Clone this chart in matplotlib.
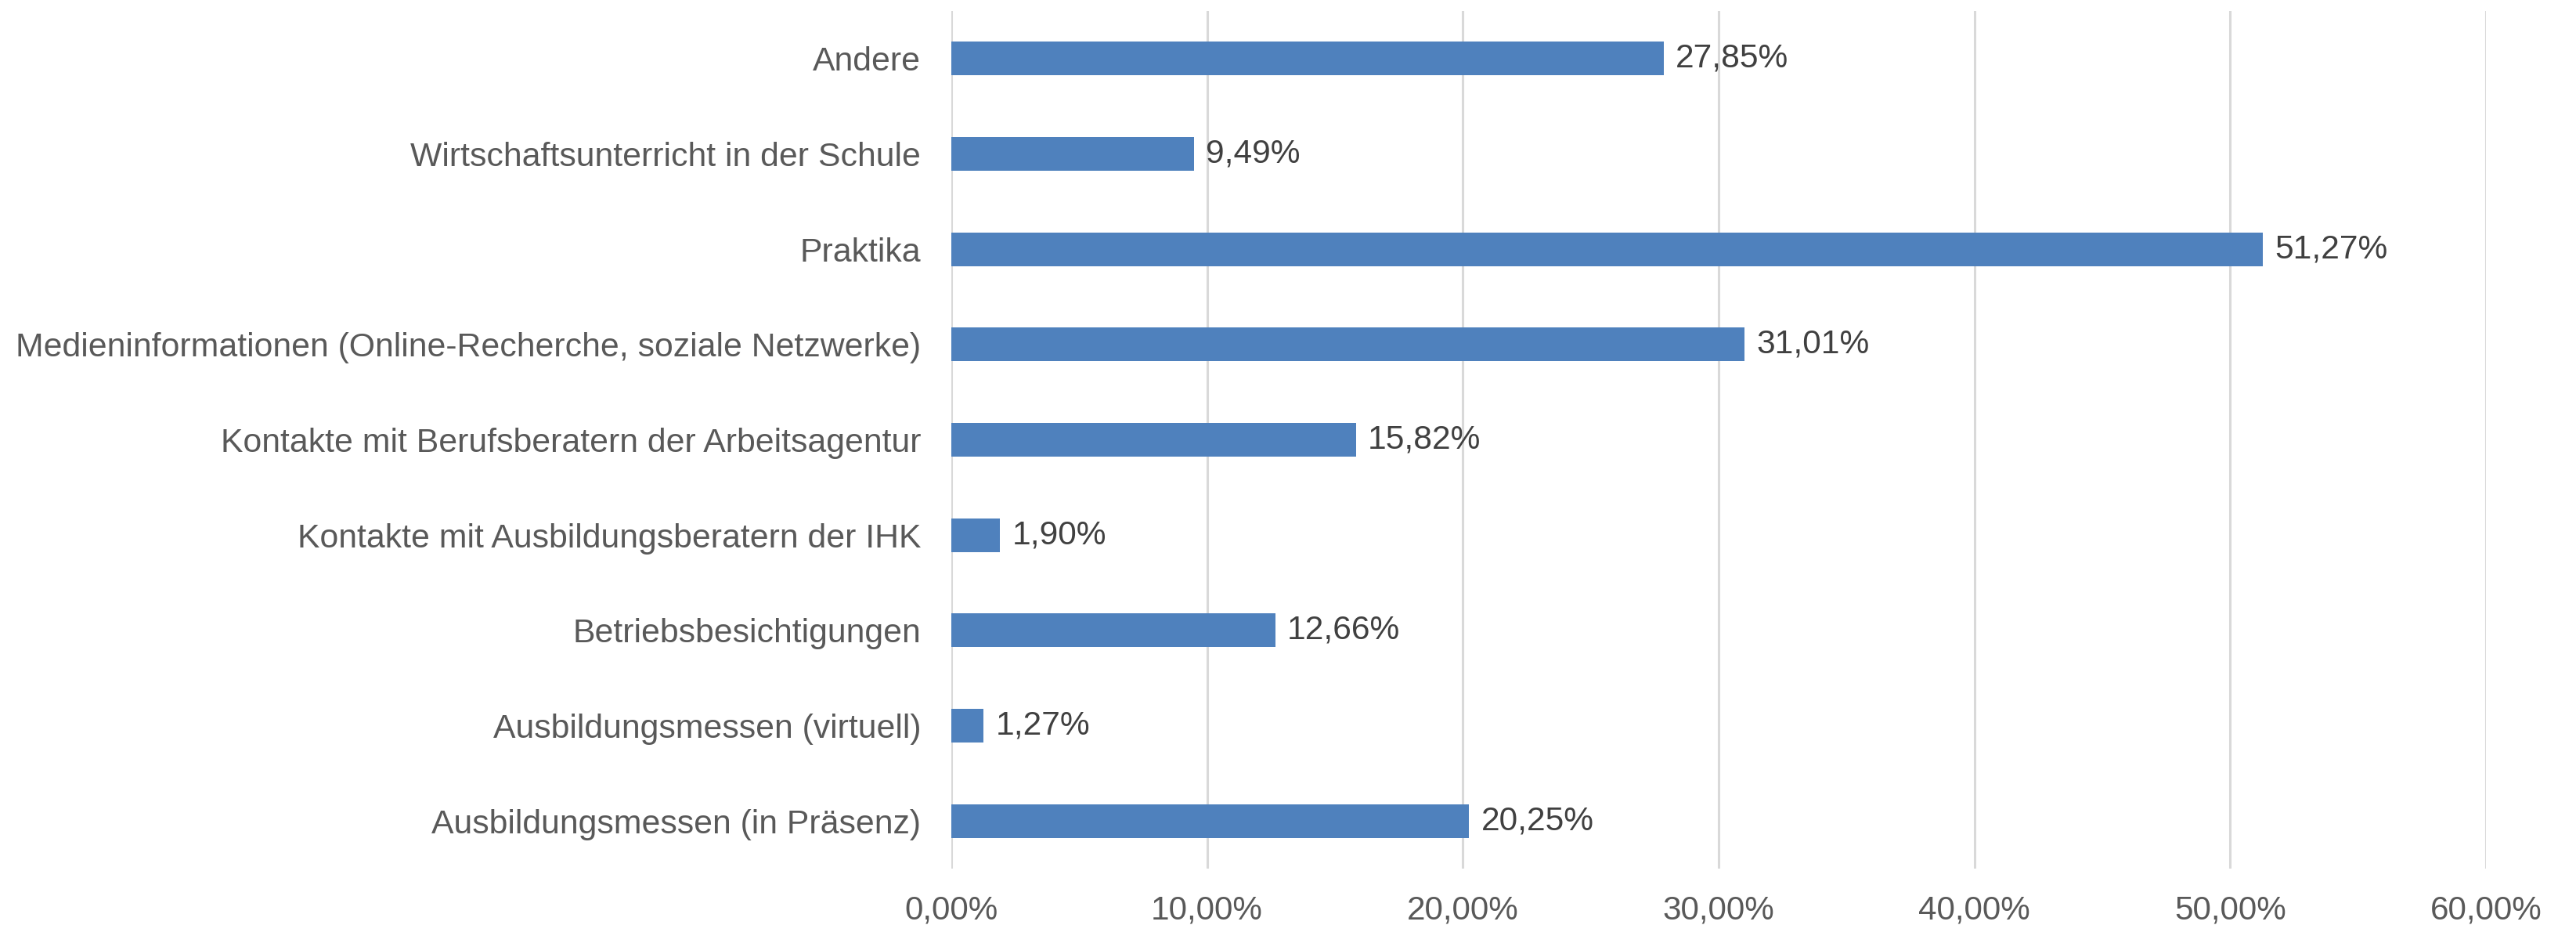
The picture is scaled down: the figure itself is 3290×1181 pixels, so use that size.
import matplotlib
matplotlib.use("Agg")
import matplotlib.pyplot as plt
from matplotlib.ticker import FuncFormatter

categories = [
    "Ausbildungsmessen (in Präsenz)",
    "Ausbildungsmessen (virtuell)",
    "Betriebsbesichtigungen",
    "Kontakte mit Ausbildungsberatern der IHK",
    "Kontakte mit Berufsberatern der Arbeitsagentur",
    "Medieninformationen (Online-Recherche, soziale Netzwerke)",
    "Praktika",
    "Wirtschaftsunterricht in der Schule",
    "Andere",
]
values = [20.25, 1.27, 12.66, 1.90, 15.82, 31.01, 51.27, 9.49, 27.85]
xticks = [0, 10, 20, 30, 40, 50, 60]

plt.rcParams['font.family'] = ['Liberation Sans', 'DejaVu Sans']

fig = plt.figure(figsize=(32.9, 11.81), dpi=100)
ax = fig.add_axes([0.3693, 0.0610, 0.9650 - 0.3693, 0.9881 - 0.0610])

y = list(range(len(categories)))
ax.barh(y, values, height=0.353, color="#4F81BD", zorder=3)

for yi, v in zip(y, values):
    ax.annotate(f"{v:.2f}%".replace(".", ","), xy=(v, yi), xytext=(11, 0),
                textcoords="offset points", va="center", ha="left",
                fontsize=30.6, color="#404040")

ax.set_xlim(0, 60)
ax.set_ylim(-0.5, len(categories) - 0.5)
ax.set_yticks(y)
ax.set_yticklabels(categories)
ax.set_xticks(xticks)
ax.xaxis.set_major_formatter(FuncFormatter(lambda v, p: f"{v:.2f}%".replace(".", ",")))
ax.tick_params(axis='both', length=0, labelcolor="#595959")
ax.tick_params(axis='y', pad=28, labelsize=30.8)
ax.tick_params(axis='x', pad=24, labelsize=30.4)
ax.grid(axis='x', color="#D9D9D9", linewidth=2.2, zorder=0)
for s in ax.spines.values():
    s.set_visible(False)

fig.savefig("out.png", dpi=100, facecolor="white")
